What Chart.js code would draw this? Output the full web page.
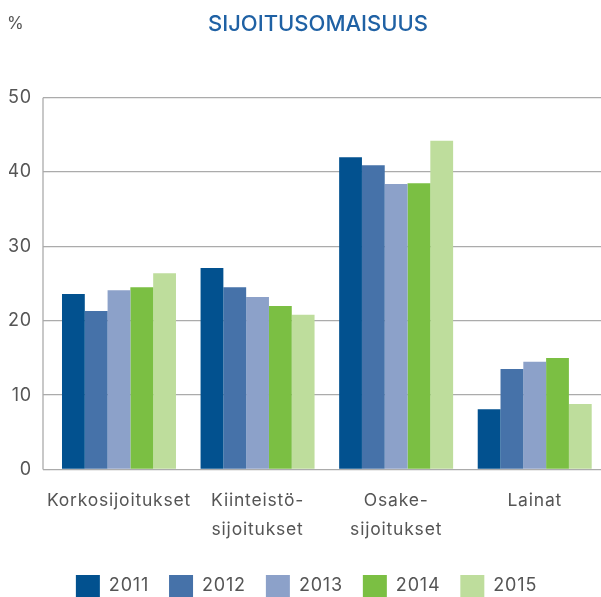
<!DOCTYPE html>
<html>
<head>
<meta charset="utf-8">
<script src="https://cdn.jsdelivr.net/npm/chart.js@4"></script>
<style>
  html, body { margin: 0; padding: 0; overflow: hidden; background: #fff; }
  #caixa { position: relative; width: 604px; height: 597px; }
  #titulo {
    position: absolute; left: 318px; top: 23px; transform: translate(-50%, -50%);
    font-family: Inter, sans-serif; font-size: 22px; font-weight: 500; color: #1f61a4;
    white-space: nowrap;
  }
  #unidade {
    position: absolute; left: 7px; top: 23px; transform: translateY(-50%);
    font-family: Inter, sans-serif; font-size: 17px; color: #555;
  }
</style>
</head>
<body>
<div id="caixa">
  <canvas id="grafico" width="604" height="597"></canvas>
  <div id="titulo">SIJOITUSOMAISUUS</div>
  <div id="unidade">%</div>
</div>
<script>
//DATOS
const categorias = [["Korkosijoitukset"], ["Kiinteistö-", "sijoitukset"], ["Osake-", "sijoitukset"], ["Lainat"]];
const anos = ["2011", "2012", "2013", "2014", "2015"];
const valores2011 = [23.6, 27.1, 42.0, 8.1];
const valores2012 = [21.3, 24.5, 40.9, 13.5];
const valores2013 = [24.1, 23.2, 38.4, 14.5];
const valores2014 = [24.5, 22.0, 38.5, 15.0];
const valores2015 = [26.4, 20.8, 44.2, 8.8];
const ticksY = [0, 10, 20, 30, 40, 50];
const colores = ["#02518f", "#4672a9", "#8ca1c9", "#7bbf43", "#bedd9c"];

const series = [valores2011, valores2012, valores2013, valores2014, valores2015];
const gris = "#555";
const lineaGris = "#ababab";

//un poco de espacio entre letras, la fuente original es mas ancha
const espaciado = {
  id: "espaciado",
  beforeUpdate(chart) {
    chart.ctx.letterSpacing = "0.8px";
  },
  beforeDraw(chart) {
    chart.ctx.letterSpacing = "0.8px";
  },
};

//linea vertical del eje y (sale a la izquierda como las marcas)
const lineaEje = {
  id: "lineaEje",
  beforeDatasetsDraw(chart) {
    const { ctx, chartArea, scales } = chart;
    const x = chartArea.left - scales.y.options.grid.tickLength;
    ctx.save();
    ctx.strokeStyle = lineaGris;
    ctx.lineWidth = 1.3;
    ctx.beginPath();
    ctx.moveTo(x, scales.y.getPixelForValue(ticksY[ticksY.length - 1]));
    ctx.lineTo(x, scales.y.getPixelForValue(ticksY[0]));
    ctx.stroke();
    ctx.restore();
  },
};

const data = {
  labels: categorias,
  datasets: anos.map((ano, i) => ({
    label: ano,
    data: series[i],
    backgroundColor: colores[i],
    borderWidth: 0,
    categoryPercentage: 0.8225,
    barPercentage: 1.0,
  })),
};

const config = {
  type: "bar",
  data: data,
  plugins: [espaciado, lineaEje],
  options: {
    responsive: false,
    animation: false,
    layout: {
      padding: { top: 97.7, left: 9, right: 0, bottom: -10 },
    },
    plugins: {
      title: { display: false },
      tooltip: { enabled: false },
      legend: {
        position: "bottom",
        labels: {
          boxWidth: 24,
          boxHeight: 22,
          padding: 20,
          color: gris,
          font: { family: "Inter", size: 18 },
        },
      },
    },
    scales: {
      x: {
        grid: { display: false, drawTicks: false },
        border: { display: false },
        ticks: {
          color: gris,
          padding: 17,
          maxRotation: 0,
          autoSkip: false,
          font: { family: "Inter", size: 17.5, lineHeight: 1.65 },
        },
        afterFit(scale) {
          scale.height = 85.5;
        },
      },
      y: {
        min: 0,
        max: 50,
        grid: { color: lineaGris, lineWidth: 1.3, tickLength: 6.7, drawTicks: true },
        border: { display: false },
        ticks: {
          color: gris,
          padding: 11,
          font: { family: "Inter", size: 18 },
        },
        afterBuildTicks(scale) {
          scale.ticks = ticksY.map((v) => ({ value: v }));
        },
        afterFit(scale) {
          scale.width = 40.7;
        },
      },
    },
  },
};

const miGrafico = new Chart(document.getElementById("grafico"), config);
</script>
</body>
</html>
